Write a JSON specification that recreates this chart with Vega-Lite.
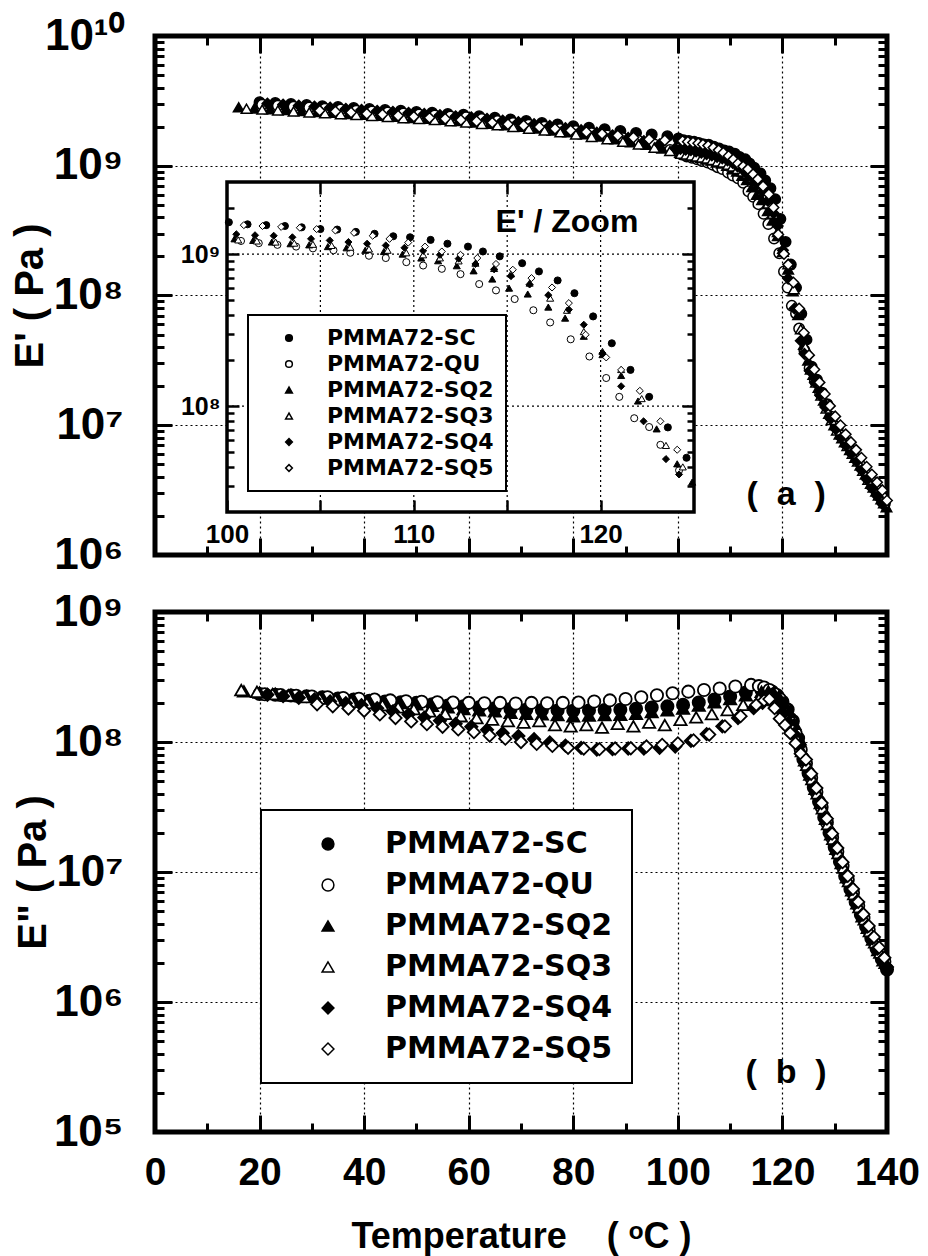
{
"$schema":"https://vega.github.io/schema/vega-lite/v6.json",
"padding":{"left":7,"top":11,"right":10,"bottom":2},
"datasets":{
"ea":[
{"s":"SC","T":20,"E":3.09e9},{"s":"SC","T":23,"E":3.04e9},{"s":"SC","T":26,"E":2.99e9},{"s":"SC","T":29,"E":2.94e9},{"s":"SC","T":32,"E":2.88e9},{"s":"SC","T":35,"E":2.84e9},{"s":"SC","T":38,"E":2.79e9},{"s":"SC","T":41,"E":2.74e9},{"s":"SC","T":44,"E":2.69e9},{"s":"SC","T":47,"E":2.65e9},{"s":"SC","T":50,"E":2.6e9},{"s":"SC","T":53,"E":2.56e9},{"s":"SC","T":56,"E":2.51e9},{"s":"SC","T":59,"E":2.47e9},{"s":"SC","T":62,"E":2.41e9},{"s":"SC","T":65,"E":2.34e9},{"s":"SC","T":68,"E":2.27e9},{"s":"SC","T":71,"E":2.21e9},{"s":"SC","T":74,"E":2.14e9},{"s":"SC","T":77,"E":2.08e9},{"s":"SC","T":80,"E":2.02e9},{"s":"SC","T":83,"E":1.96e9},{"s":"SC","T":86,"E":1.91e9},{"s":"SC","T":89,"E":1.85e9},{"s":"SC","T":92,"E":1.79e9},{"s":"SC","T":95,"E":1.74e9},{"s":"SC","T":98,"E":1.69e9},
{"s":"SC","T":100.1,"E":1.62e9},{"s":"SC","T":101.1,"E":1.57e9},{"s":"SC","T":102.1,"E":1.55e9},{"s":"SC","T":103.1,"E":1.53e9},{"s":"SC","T":104,"E":1.5e9},{"s":"SC","T":105,"E":1.46e9},{"s":"SC","T":105.9,"E":1.45e9},{"s":"SC","T":106.9,"E":1.4e9},{"s":"SC","T":107.9,"E":1.36e9},{"s":"SC","T":108.9,"E":1.31e9},{"s":"SC","T":109.8,"E":1.29e9},{"s":"SC","T":110.9,"E":1.24e9},{"s":"SC","T":111.8,"E":1.17e9},{"s":"SC","T":112.9,"E":1.12e9},{"s":"SC","T":113.7,"E":1.04e9},{"s":"SC","T":114.6,"E":9.66e8},{"s":"SC","T":115.8,"E":8.71e8},{"s":"SC","T":116.7,"E":7.69e8},{"s":"SC","T":117.7,"E":6.71e8},{"s":"SC","T":118.6,"E":5.53e8},{"s":"SC","T":119.6,"E":3.89e8},{"s":"SC","T":120.6,"E":2.59e8},{"s":"SC","T":121.6,"E":1.73e8},{"s":"SC","T":122.6,"E":1.15e8},{"s":"SC","T":123.6,"E":7.24e7},{"s":"SC","T":124.6,"E":4.57e7},
{"s":"SC","T":125.6,"E":2.82e7},{"s":"SC","T":126.6,"E":2.24e7},{"s":"SC","T":127.6,"E":1.78e7},{"s":"SC","T":128.6,"E":1.45e7},{"s":"SC","T":129.6,"E":1.15e7},{"s":"SC","T":130.6,"E":9.55e6},{"s":"SC","T":131.6,"E":8.13e6},{"s":"SC","T":132.6,"E":7.08e6},{"s":"SC","T":133.6,"E":6.17e6},{"s":"SC","T":134.6,"E":5.37e6},{"s":"SC","T":135.6,"E":4.68e6},{"s":"SC","T":136.6,"E":3.98e6},{"s":"SC","T":137.6,"E":3.47e6},{"s":"SC","T":138.6,"E":2.95e6},{"s":"SC","T":139.6,"E":2.51e6},
{"s":"QU","T":20.5,"E":2.95e9},{"s":"QU","T":23.5,"E":2.9e9},{"s":"QU","T":26.5,"E":2.85e9},{"s":"QU","T":29.5,"E":2.81e9},{"s":"QU","T":32.5,"E":2.75e9},{"s":"QU","T":35.5,"E":2.71e9},{"s":"QU","T":38.5,"E":2.66e9},{"s":"QU","T":41.5,"E":2.62e9},{"s":"QU","T":44.5,"E":2.57e9},{"s":"QU","T":47.5,"E":2.53e9},{"s":"QU","T":50.5,"E":2.48e9},{"s":"QU","T":53.5,"E":2.44e9},{"s":"QU","T":56.5,"E":2.4e9},{"s":"QU","T":59.5,"E":2.36e9},{"s":"QU","T":62.5,"E":2.29e9},{"s":"QU","T":65.5,"E":2.21e9},{"s":"QU","T":68.5,"E":2.14e9},{"s":"QU","T":71.5,"E":2.07e9},{"s":"QU","T":74.5,"E":2e9},{"s":"QU","T":77.5,"E":1.92e9},{"s":"QU","T":80.5,"E":1.85e9},{"s":"QU","T":83.5,"E":1.78e9},{"s":"QU","T":86.5,"E":1.71e9},{"s":"QU","T":89.5,"E":1.63e9},{"s":"QU","T":92.5,"E":1.55e9},{"s":"QU","T":95.5,"E":1.46e9},{"s":"QU","T":98.5,"E":1.32e9},
{"s":"QU","T":100.75,"E":1.22e9},{"s":"QU","T":101.7,"E":1.18e9},{"s":"QU","T":102.7,"E":1.15e9},{"s":"QU","T":103.7,"E":1.12e9},{"s":"QU","T":104.6,"E":1.09e9},{"s":"QU","T":105.7,"E":1.06e9},{"s":"QU","T":106.6,"E":1.02e9},{"s":"QU","T":107.6,"E":9.75e8},{"s":"QU","T":108.5,"E":9.42e8},{"s":"QU","T":109.6,"E":8.85e8},{"s":"QU","T":110.5,"E":8.41e8},{"s":"QU","T":111.5,"E":8e8},{"s":"QU","T":112.5,"E":7.38e8},{"s":"QU","T":113.5,"E":6.35e8},{"s":"QU","T":114.4,"E":5.77e8},{"s":"QU","T":115.4,"E":5.06e8},{"s":"QU","T":116.4,"E":4.27e8},{"s":"QU","T":117.3,"E":3.55e8},{"s":"QU","T":118.4,"E":2.75e8},{"s":"QU","T":119.4,"E":2.12e8},{"s":"QU","T":120.3,"E":1.53e8},{"s":"QU","T":121,"E":1.15e8},{"s":"QU","T":121.8,"E":8.32e7},{"s":"QU","T":122.6,"E":7.28e7},{"s":"QU","T":123.2,"E":5.56e7},{"s":"QU","T":124.2,"E":3.78e7},
{"s":"QU","T":125.2,"E":2.75e7},{"s":"QU","T":126.2,"E":2.19e7},{"s":"QU","T":127.2,"E":1.78e7},{"s":"QU","T":128.2,"E":1.45e7},{"s":"QU","T":129.2,"E":1.17e7},{"s":"QU","T":130.2,"E":9.77e6},{"s":"QU","T":131.2,"E":8.32e6},{"s":"QU","T":132.2,"E":7.24e6},{"s":"QU","T":133.2,"E":6.31e6},{"s":"QU","T":134.2,"E":5.5e6},{"s":"QU","T":135.2,"E":4.79e6},{"s":"QU","T":136.2,"E":4.17e6},{"s":"QU","T":137.2,"E":3.63e6},{"s":"QU","T":138.2,"E":3.16e6},{"s":"QU","T":139.2,"E":2.75e6},
{"s":"SQ2","T":16,"E":2.82e9},{"s":"SQ2","T":19,"E":2.77e9},{"s":"SQ2","T":22,"E":2.73e9},{"s":"SQ2","T":25,"E":2.69e9},{"s":"SQ2","T":28,"E":2.64e9},{"s":"SQ2","T":31,"E":2.6e9},{"s":"SQ2","T":34,"E":2.56e9},{"s":"SQ2","T":37,"E":2.51e9},{"s":"SQ2","T":40,"E":2.47e9},{"s":"SQ2","T":43,"E":2.43e9},{"s":"SQ2","T":46,"E":2.39e9},{"s":"SQ2","T":49,"E":2.34e9},{"s":"SQ2","T":52,"E":2.3e9},{"s":"SQ2","T":55,"E":2.26e9},{"s":"SQ2","T":58,"E":2.21e9},{"s":"SQ2","T":61,"E":2.16e9},{"s":"SQ2","T":64,"E":2.11e9},{"s":"SQ2","T":67,"E":2.05e9},{"s":"SQ2","T":70,"E":2e9},{"s":"SQ2","T":73,"E":1.94e9},{"s":"SQ2","T":76,"E":1.87e9},{"s":"SQ2","T":79,"E":1.81e9},{"s":"SQ2","T":82,"E":1.75e9},{"s":"SQ2","T":85,"E":1.68e9},{"s":"SQ2","T":88,"E":1.6e9},{"s":"SQ2","T":91,"E":1.52e9},{"s":"SQ2","T":94,"E":1.45e9},{"s":"SQ2","T":97,"E":1.36e9},
{"s":"SQ2","T":100.4,"E":1.26e9},{"s":"SQ2","T":101.4,"E":1.23e9},{"s":"SQ2","T":102.4,"E":1.2e9},{"s":"SQ2","T":103.4,"E":1.17e9},{"s":"SQ2","T":104.4,"E":1.15e9},{"s":"SQ2","T":105.4,"E":1.12e9},{"s":"SQ2","T":106.4,"E":1.1e9},{"s":"SQ2","T":107.4,"E":1.06e9},{"s":"SQ2","T":108.4,"E":1.04e9},{"s":"SQ2","T":109.4,"E":1e9},{"s":"SQ2","T":110.4,"E":9.42e8},{"s":"SQ2","T":111.3,"E":9.04e8},{"s":"SQ2","T":112.3,"E":8.38e8},{"s":"SQ2","T":113.2,"E":7.76e8},{"s":"SQ2","T":114.2,"E":6.85e8},{"s":"SQ2","T":115.1,"E":5.97e8},{"s":"SQ2","T":116.1,"E":5.46e8},{"s":"SQ2","T":117.2,"E":4.48e8},{"s":"SQ2","T":118.1,"E":3.79e8},{"s":"SQ2","T":119.1,"E":2.88e8},{"s":"SQ2","T":120.1,"E":2.18e8},{"s":"SQ2","T":121.1,"E":1.59e8},{"s":"SQ2","T":122,"E":1.08e8},{"s":"SQ2","T":123,"E":7.08e7},{"s":"SQ2","T":124.1,"E":4.17e7},{"s":"SQ2","T":124.9,"E":3.16e7},
{"s":"SQ2","T":125.9,"E":2.45e7},{"s":"SQ2","T":126.9,"E":1.95e7},{"s":"SQ2","T":127.9,"E":1.55e7},{"s":"SQ2","T":128.9,"E":1.23e7},{"s":"SQ2","T":129.9,"E":1e7},{"s":"SQ2","T":130.9,"E":8.51e6},{"s":"SQ2","T":131.9,"E":7.41e6},{"s":"SQ2","T":132.9,"E":6.46e6},{"s":"SQ2","T":133.9,"E":5.62e6},{"s":"SQ2","T":134.9,"E":4.9e6},{"s":"SQ2","T":135.9,"E":4.17e6},{"s":"SQ2","T":136.9,"E":3.55e6},{"s":"SQ2","T":137.9,"E":3.09e6},{"s":"SQ2","T":138.9,"E":2.69e6},{"s":"SQ2","T":139.9,"E":2.34e6},
{"s":"SQ3","T":17.5,"E":2.75e9},{"s":"SQ3","T":20.5,"E":2.71e9},{"s":"SQ3","T":23.5,"E":2.67e9},{"s":"SQ3","T":26.5,"E":2.62e9},{"s":"SQ3","T":29.5,"E":2.58e9},{"s":"SQ3","T":32.5,"E":2.54e9},{"s":"SQ3","T":35.5,"E":2.5e9},{"s":"SQ3","T":38.5,"E":2.46e9},{"s":"SQ3","T":41.5,"E":2.42e9},{"s":"SQ3","T":44.5,"E":2.38e9},{"s":"SQ3","T":47.5,"E":2.33e9},{"s":"SQ3","T":50.5,"E":2.29e9},{"s":"SQ3","T":53.5,"E":2.25e9},{"s":"SQ3","T":56.5,"E":2.2e9},{"s":"SQ3","T":59.5,"E":2.16e9},{"s":"SQ3","T":62.5,"E":2.1e9},{"s":"SQ3","T":65.5,"E":2.05e9},{"s":"SQ3","T":68.5,"E":1.99e9},{"s":"SQ3","T":71.5,"E":1.93e9},{"s":"SQ3","T":74.5,"E":1.87e9},{"s":"SQ3","T":77.5,"E":1.81e9},{"s":"SQ3","T":80.5,"E":1.74e9},{"s":"SQ3","T":83.5,"E":1.67e9},{"s":"SQ3","T":86.5,"E":1.6e9},{"s":"SQ3","T":89.5,"E":1.53e9},{"s":"SQ3","T":92.5,"E":1.46e9},{"s":"SQ3","T":95.5,"E":1.38e9},{"s":"SQ3","T":98.5,"E":1.3e9},
{"s":"SQ3","T":100.6,"E":1.24e9},{"s":"SQ3","T":101.6,"E":1.22e9},{"s":"SQ3","T":102.6,"E":1.2e9},{"s":"SQ3","T":103.6,"E":1.18e9},{"s":"SQ3","T":104.6,"E":1.16e9},{"s":"SQ3","T":105.6,"E":1.14e9},{"s":"SQ3","T":106.6,"E":1.11e9},{"s":"SQ3","T":107.6,"E":1.08e9},{"s":"SQ3","T":108.6,"E":1.06e9},{"s":"SQ3","T":109.6,"E":1.02e9},{"s":"SQ3","T":110.5,"E":9.89e8},{"s":"SQ3","T":111.4,"E":9.44e8},{"s":"SQ3","T":112.4,"E":9.02e8},{"s":"SQ3","T":113.3,"E":8.71e8},{"s":"SQ3","T":114.3,"E":8.04e8},{"s":"SQ3","T":115.2,"E":7.41e8},{"s":"SQ3","T":116.2,"E":6.44e8},{"s":"SQ3","T":117.3,"E":5.13e8},{"s":"SQ3","T":118.2,"E":4.27e8},{"s":"SQ3","T":119.1,"E":3.09e8},{"s":"SQ3","T":120.1,"E":2.29e8},{"s":"SQ3","T":121.1,"E":1.74e8},{"s":"SQ3","T":122.2,"E":1.12e8},{"s":"SQ3","T":123.5,"E":5.51e7},{"s":"SQ3","T":124.4,"E":3.98e7},
{"s":"SQ3","T":125.4,"E":2.69e7},{"s":"SQ3","T":126.4,"E":2.14e7},{"s":"SQ3","T":127.4,"E":1.7e7},{"s":"SQ3","T":128.4,"E":1.35e7},{"s":"SQ3","T":129.4,"E":1.1e7},{"s":"SQ3","T":130.4,"E":9.12e6},{"s":"SQ3","T":131.4,"E":7.94e6},{"s":"SQ3","T":132.4,"E":6.92e6},{"s":"SQ3","T":133.4,"E":6.03e6},{"s":"SQ3","T":134.4,"E":5.25e6},{"s":"SQ3","T":135.4,"E":4.47e6},{"s":"SQ3","T":136.4,"E":3.8e6},{"s":"SQ3","T":137.4,"E":3.31e6},{"s":"SQ3","T":138.4,"E":2.88e6},{"s":"SQ3","T":139.4,"E":2.51e6},
{"s":"SQ4","T":21.5,"E":3.02e9},{"s":"SQ4","T":24.5,"E":2.96e9},{"s":"SQ4","T":27.5,"E":2.91e9},{"s":"SQ4","T":30.5,"E":2.86e9},{"s":"SQ4","T":33.5,"E":2.81e9},{"s":"SQ4","T":36.5,"E":2.75e9},{"s":"SQ4","T":39.5,"E":2.7e9},{"s":"SQ4","T":42.5,"E":2.65e9},{"s":"SQ4","T":45.5,"E":2.61e9},{"s":"SQ4","T":48.5,"E":2.56e9},{"s":"SQ4","T":51.5,"E":2.51e9},{"s":"SQ4","T":54.5,"E":2.46e9},{"s":"SQ4","T":57.5,"E":2.41e9},{"s":"SQ4","T":60.5,"E":2.36e9},{"s":"SQ4","T":63.5,"E":2.3e9},{"s":"SQ4","T":66.5,"E":2.23e9},{"s":"SQ4","T":69.5,"E":2.17e9},{"s":"SQ4","T":72.5,"E":2.1e9},{"s":"SQ4","T":75.5,"E":2.03e9},{"s":"SQ4","T":78.5,"E":1.95e9},{"s":"SQ4","T":81.5,"E":1.88e9},{"s":"SQ4","T":84.5,"E":1.8e9},{"s":"SQ4","T":87.5,"E":1.72e9},{"s":"SQ4","T":90.5,"E":1.64e9},{"s":"SQ4","T":93.5,"E":1.55e9},{"s":"SQ4","T":96.5,"E":1.46e9},{"s":"SQ4","T":99.5,"E":1.36e9},
{"s":"SQ4","T":100.5,"E":1.35e9},{"s":"SQ4","T":101.5,"E":1.33e9},{"s":"SQ4","T":102.5,"E":1.32e9},{"s":"SQ4","T":103.5,"E":1.29e9},{"s":"SQ4","T":104.5,"E":1.26e9},{"s":"SQ4","T":105.5,"E":1.23e9},{"s":"SQ4","T":106.5,"E":1.2e9},{"s":"SQ4","T":107.5,"E":1.17e9},{"s":"SQ4","T":108.5,"E":1.14e9},{"s":"SQ4","T":109.5,"E":1.1e9},{"s":"SQ4","T":110.5,"E":1.05e9},{"s":"SQ4","T":111.4,"E":9.89e8},{"s":"SQ4","T":112.4,"E":9.33e8},{"s":"SQ4","T":113.3,"E":8.61e8},{"s":"SQ4","T":114.3,"E":7.94e8},{"s":"SQ4","T":115.2,"E":7.16e8},{"s":"SQ4","T":116.2,"E":6.31e8},{"s":"SQ4","T":117.2,"E":5.37e8},{"s":"SQ4","T":118.3,"E":4.31e8},{"s":"SQ4","T":119.1,"E":3.43e8},{"s":"SQ4","T":120.1,"E":2.23e8},{"s":"SQ4","T":121.1,"E":1.35e8},{"s":"SQ4","T":122.3,"E":7.94e7},{"s":"SQ4","T":123.5,"E":4.48e7},{"s":"SQ4","T":124.2,"E":3.55e7},
{"s":"SQ4","T":125.2,"E":2.63e7},{"s":"SQ4","T":126.2,"E":2.14e7},{"s":"SQ4","T":127.2,"E":1.7e7},{"s":"SQ4","T":128.2,"E":1.38e7},{"s":"SQ4","T":129.2,"E":1.12e7},{"s":"SQ4","T":130.2,"E":9.33e6},{"s":"SQ4","T":131.2,"E":7.94e6},{"s":"SQ4","T":132.2,"E":6.92e6},{"s":"SQ4","T":133.2,"E":6.03e6},{"s":"SQ4","T":134.2,"E":5.25e6},{"s":"SQ4","T":135.2,"E":4.47e6},{"s":"SQ4","T":136.2,"E":3.8e6},{"s":"SQ4","T":137.2,"E":3.24e6},{"s":"SQ4","T":138.2,"E":2.82e6},{"s":"SQ4","T":139.2,"E":2.45e6},
{"s":"SQ5","T":31.5,"E":2.66e9},{"s":"SQ5","T":34.5,"E":2.62e9},{"s":"SQ5","T":37.5,"E":2.57e9},{"s":"SQ5","T":40.5,"E":2.52e9},{"s":"SQ5","T":43.5,"E":2.48e9},{"s":"SQ5","T":46.5,"E":2.43e9},{"s":"SQ5","T":49.5,"E":2.39e9},{"s":"SQ5","T":52.5,"E":2.34e9},{"s":"SQ5","T":55.5,"E":2.3e9},{"s":"SQ5","T":58.5,"E":2.25e9},{"s":"SQ5","T":61.5,"E":2.2e9},{"s":"SQ5","T":64.5,"E":2.15e9},{"s":"SQ5","T":67.5,"E":2.09e9},{"s":"SQ5","T":70.5,"E":2.04e9},{"s":"SQ5","T":73.5,"E":1.99e9},{"s":"SQ5","T":76.5,"E":1.93e9},{"s":"SQ5","T":79.5,"E":1.87e9},{"s":"SQ5","T":82.5,"E":1.82e9},{"s":"SQ5","T":85.5,"E":1.76e9},{"s":"SQ5","T":88.5,"E":1.71e9},{"s":"SQ5","T":91.5,"E":1.65e9},{"s":"SQ5","T":94.5,"E":1.6e9},{"s":"SQ5","T":97.5,"E":1.57e9},
{"s":"SQ5","T":100.9,"E":1.55e9},{"s":"SQ5","T":101.9,"E":1.53e9},{"s":"SQ5","T":102.9,"E":1.51e9},{"s":"SQ5","T":103.9,"E":1.49e9},{"s":"SQ5","T":104.8,"E":1.46e9},{"s":"SQ5","T":105.8,"E":1.43e9},{"s":"SQ5","T":106.8,"E":1.38e9},{"s":"SQ5","T":107.8,"E":1.32e9},{"s":"SQ5","T":108.7,"E":1.26e9},{"s":"SQ5","T":109.7,"E":1.19e9},{"s":"SQ5","T":110.6,"E":1.12e9},{"s":"SQ5","T":111.5,"E":1.04e9},{"s":"SQ5","T":112.5,"E":9.89e8},{"s":"SQ5","T":113.4,"E":9.42e8},{"s":"SQ5","T":114.4,"E":8.61e8},{"s":"SQ5","T":115.3,"E":7.89e8},{"s":"SQ5","T":116.3,"E":6.95e8},{"s":"SQ5","T":117.4,"E":6.03e8},{"s":"SQ5","T":118.3,"E":4.76e8},{"s":"SQ5","T":119.2,"E":2.95e8},{"s":"SQ5","T":120.3,"E":2.09e8},{"s":"SQ5","T":121.1,"E":1.73e8},{"s":"SQ5","T":122.1,"E":1.26e8},{"s":"SQ5","T":123.2,"E":7.94e7},{"s":"SQ5","T":124.1,"E":5.16e7},
{"s":"SQ5","T":125.1,"E":3.47e7},{"s":"SQ5","T":126.1,"E":2.69e7},{"s":"SQ5","T":127.1,"E":2.14e7},{"s":"SQ5","T":128.1,"E":1.74e7},{"s":"SQ5","T":129.1,"E":1.41e7},{"s":"SQ5","T":130.1,"E":1.17e7},{"s":"SQ5","T":131.1,"E":1e7},{"s":"SQ5","T":132.1,"E":8.51e6},{"s":"SQ5","T":133.1,"E":7.41e6},{"s":"SQ5","T":134.1,"E":6.46e6},{"s":"SQ5","T":135.1,"E":5.62e6},{"s":"SQ5","T":136.1,"E":4.79e6},{"s":"SQ5","T":137.1,"E":4.17e6},{"s":"SQ5","T":138.1,"E":3.63e6},{"s":"SQ5","T":139.1,"E":3.16e6},{"s":"SQ5","T":140,"E":2.63e6}
],
"eb":[
{"s":"SC","T":20,"E":2.34e8},{"s":"SC","T":23,"E":2.31e8},{"s":"SC","T":26,"E":2.28e8},{"s":"SC","T":29,"E":2.25e8},{"s":"SC","T":32,"E":2.21e8},{"s":"SC","T":35,"E":2.16e8},{"s":"SC","T":38,"E":2.12e8},{"s":"SC","T":41,"E":2.08e8},{"s":"SC","T":44,"E":2.05e8},{"s":"SC","T":47,"E":2.02e8},{"s":"SC","T":50,"E":2e8},{"s":"SC","T":53,"E":1.95e8},{"s":"SC","T":56,"E":1.91e8},{"s":"SC","T":59,"E":1.88e8},{"s":"SC","T":62,"E":1.85e8},{"s":"SC","T":65,"E":1.82e8},{"s":"SC","T":68,"E":1.79e8},{"s":"SC","T":71,"E":1.77e8},{"s":"SC","T":74,"E":1.76e8},{"s":"SC","T":77,"E":1.75e8},{"s":"SC","T":80,"E":1.74e8},{"s":"SC","T":83,"E":1.75e8},{"s":"SC","T":86,"E":1.76e8},{"s":"SC","T":89,"E":1.77e8},{"s":"SC","T":92,"E":1.8e8},{"s":"SC","T":95,"E":1.84e8},{"s":"SC","T":98,"E":1.88e8},{"s":"SC","T":101,"E":1.93e8},{"s":"SC","T":104,"E":2.01e8},{"s":"SC","T":107,"E":2.12e8},{"s":"SC","T":110,"E":2.24e8},{"s":"SC","T":113,"E":2.4e8},{"s":"SC","T":116,"E":2.51e8},
{"s":"SC","T":117,"E":2.51e8},{"s":"SC","T":118,"E":2.45e8},{"s":"SC","T":119,"E":2.29e8},{"s":"SC","T":120,"E":2.04e8},{"s":"SC","T":121,"E":1.78e8},{"s":"SC","T":122,"E":1.45e8},{"s":"SC","T":123,"E":1.07e8},{"s":"SC","T":124,"E":7.41e7},{"s":"SC","T":125,"E":5.75e7},{"s":"SC","T":126,"E":4.47e7},{"s":"SC","T":127,"E":3.47e7},{"s":"SC","T":128,"E":2.63e7},{"s":"SC","T":129,"E":2e7},{"s":"SC","T":130,"E":1.55e7},{"s":"SC","T":131,"E":1.2e7},{"s":"SC","T":132,"E":9.33e6},{"s":"SC","T":133,"E":7.41e6},{"s":"SC","T":134,"E":5.89e6},{"s":"SC","T":135,"E":4.68e6},{"s":"SC","T":136,"E":3.8e6},{"s":"SC","T":137,"E":3.09e6},{"s":"SC","T":138,"E":2.57e6},{"s":"SC","T":139,"E":2.14e6},{"s":"SC","T":140,"E":1.78e6},
{"s":"QU","T":21,"E":2.33e8},{"s":"QU","T":24,"E":2.3e8},{"s":"QU","T":27,"E":2.27e8},{"s":"QU","T":30,"E":2.24e8},{"s":"QU","T":33,"E":2.21e8},{"s":"QU","T":36,"E":2.18e8},{"s":"QU","T":39,"E":2.15e8},{"s":"QU","T":42,"E":2.12e8},{"s":"QU","T":45,"E":2.09e8},{"s":"QU","T":48,"E":2.06e8},{"s":"QU","T":51,"E":2.04e8},{"s":"QU","T":54,"E":2.02e8},{"s":"QU","T":57,"E":2.01e8},{"s":"QU","T":60,"E":2e8},{"s":"QU","T":63,"E":1.99e8},{"s":"QU","T":66,"E":2e8},{"s":"QU","T":69,"E":1.98e8},{"s":"QU","T":72,"E":2e8},{"s":"QU","T":75,"E":1.99e8},{"s":"QU","T":78,"E":2e8},{"s":"QU","T":81,"E":2.01e8},{"s":"QU","T":84,"E":2.05e8},{"s":"QU","T":87,"E":2.09e8},{"s":"QU","T":90,"E":2.14e8},{"s":"QU","T":93,"E":2.21e8},{"s":"QU","T":96,"E":2.29e8},{"s":"QU","T":99,"E":2.37e8},{"s":"QU","T":102,"E":2.44e8},{"s":"QU","T":105,"E":2.51e8},{"s":"QU","T":108,"E":2.58e8},{"s":"QU","T":111,"E":2.67e8},{"s":"QU","T":114,"E":2.75e8},
{"s":"QU","T":115.5,"E":2.69e8},{"s":"QU","T":116.5,"E":2.63e8},{"s":"QU","T":117.5,"E":2.51e8},{"s":"QU","T":118.5,"E":2.34e8},{"s":"QU","T":119.5,"E":2.14e8},{"s":"QU","T":120.5,"E":1.82e8},{"s":"QU","T":121.5,"E":1.51e8},{"s":"QU","T":122.5,"E":1.17e8},{"s":"QU","T":123.5,"E":8.71e7},{"s":"QU","T":124.5,"E":6.84e7},{"s":"QU","T":125.5,"E":5.31e7},{"s":"QU","T":126.5,"E":4.12e7},{"s":"QU","T":127.5,"E":3.16e7},{"s":"QU","T":128.5,"E":2.4e7},{"s":"QU","T":129.5,"E":1.84e7},{"s":"QU","T":130.5,"E":1.43e7},{"s":"QU","T":131.5,"E":1.11e7},{"s":"QU","T":132.5,"E":8.71e6},{"s":"QU","T":133.5,"E":6.92e6},{"s":"QU","T":134.5,"E":5.5e6},{"s":"QU","T":135.5,"E":4.42e6},{"s":"QU","T":136.5,"E":3.59e6},{"s":"QU","T":137.5,"E":2.95e6},{"s":"QU","T":138.5,"E":2.45e6},{"s":"QU","T":139.5,"E":2.04e6},
{"s":"SQ2","T":17,"E":2.45e8},{"s":"SQ2","T":20,"E":2.4e8},{"s":"SQ2","T":23,"E":2.35e8},{"s":"SQ2","T":26,"E":2.3e8},{"s":"SQ2","T":29,"E":2.25e8},{"s":"SQ2","T":32,"E":2.21e8},{"s":"SQ2","T":35,"E":2.16e8},{"s":"SQ2","T":38,"E":2.12e8},{"s":"SQ2","T":41,"E":2.07e8},{"s":"SQ2","T":44,"E":2.03e8},{"s":"SQ2","T":47,"E":1.99e8},{"s":"SQ2","T":50,"E":1.95e8},{"s":"SQ2","T":53,"E":1.9e8},{"s":"SQ2","T":56,"E":1.85e8},{"s":"SQ2","T":59,"E":1.79e8},{"s":"SQ2","T":62,"E":1.75e8},{"s":"SQ2","T":65,"E":1.72e8},{"s":"SQ2","T":68,"E":1.68e8},{"s":"SQ2","T":71,"E":1.65e8},{"s":"SQ2","T":74,"E":1.63e8},{"s":"SQ2","T":77,"E":1.61e8},{"s":"SQ2","T":80,"E":1.58e8},{"s":"SQ2","T":83,"E":1.6e8},{"s":"SQ2","T":86,"E":1.61e8},{"s":"SQ2","T":89,"E":1.62e8},{"s":"SQ2","T":92,"E":1.65e8},{"s":"SQ2","T":95,"E":1.7e8},{"s":"SQ2","T":98,"E":1.75e8},{"s":"SQ2","T":101,"E":1.81e8},{"s":"SQ2","T":104,"E":1.91e8},{"s":"SQ2","T":107,"E":2.02e8},{"s":"SQ2","T":110,"E":2.14e8},{"s":"SQ2","T":113,"E":2.29e8},{"s":"SQ2","T":116,"E":2.43e8},
{"s":"SQ2","T":117.3,"E":2.45e8},{"s":"SQ2","T":118.3,"E":2.4e8},{"s":"SQ2","T":119.3,"E":2.24e8},{"s":"SQ2","T":120.3,"E":2e8},{"s":"SQ2","T":121.3,"E":1.7e8},{"s":"SQ2","T":122.3,"E":1.38e8},{"s":"SQ2","T":123.3,"E":1.05e8},{"s":"SQ2","T":124.3,"E":7.24e7},{"s":"SQ2","T":125.3,"E":5.62e7},{"s":"SQ2","T":126.3,"E":4.37e7},{"s":"SQ2","T":127.3,"E":3.39e7},{"s":"SQ2","T":128.3,"E":2.57e7},{"s":"SQ2","T":129.3,"E":1.95e7},{"s":"SQ2","T":130.3,"E":1.51e7},{"s":"SQ2","T":131.3,"E":1.17e7},{"s":"SQ2","T":132.3,"E":9.12e6},{"s":"SQ2","T":133.3,"E":7.24e6},{"s":"SQ2","T":134.3,"E":5.75e6},{"s":"SQ2","T":135.3,"E":4.57e6},{"s":"SQ2","T":136.3,"E":3.72e6},{"s":"SQ2","T":137.3,"E":3.02e6},{"s":"SQ2","T":138.3,"E":2.51e6},{"s":"SQ2","T":139.3,"E":2.09e6},
{"s":"SQ3","T":16.5,"E":2.51e8},{"s":"SQ3","T":19.5,"E":2.43e8},{"s":"SQ3","T":22.5,"E":2.34e8},{"s":"SQ3","T":25.5,"E":2.28e8},{"s":"SQ3","T":28.5,"E":2.22e8},{"s":"SQ3","T":31.5,"E":2.16e8},{"s":"SQ3","T":34.5,"E":2.1e8},{"s":"SQ3","T":37.5,"E":2.04e8},{"s":"SQ3","T":40.5,"E":1.99e8},{"s":"SQ3","T":43.5,"E":1.92e8},{"s":"SQ3","T":46.5,"E":1.85e8},{"s":"SQ3","T":49.5,"E":1.79e8},{"s":"SQ3","T":52.5,"E":1.72e8},{"s":"SQ3","T":55.5,"E":1.65e8},{"s":"SQ3","T":58.5,"E":1.58e8},{"s":"SQ3","T":61.5,"E":1.53e8},{"s":"SQ3","T":64.5,"E":1.49e8},{"s":"SQ3","T":67.5,"E":1.45e8},{"s":"SQ3","T":70.5,"E":1.41e8},{"s":"SQ3","T":73.5,"E":1.45e8},{"s":"SQ3","T":76.5,"E":1.35e8},{"s":"SQ3","T":79.5,"E":1.32e8},{"s":"SQ3","T":82.5,"E":1.35e8},{"s":"SQ3","T":85.5,"E":1.29e8},{"s":"SQ3","T":88.5,"E":1.38e8},{"s":"SQ3","T":91.5,"E":1.32e8},{"s":"SQ3","T":94.5,"E":1.41e8},{"s":"SQ3","T":97.5,"E":1.35e8},{"s":"SQ3","T":100.5,"E":1.48e8},{"s":"SQ3","T":103.5,"E":1.55e8},{"s":"SQ3","T":106.5,"E":1.64e8},{"s":"SQ3","T":109.5,"E":1.76e8},{"s":"SQ3","T":112.5,"E":1.93e8},{"s":"SQ3","T":115.5,"E":2.14e8},
{"s":"SQ3","T":116.7,"E":2.21e8},{"s":"SQ3","T":117.7,"E":2.24e8},{"s":"SQ3","T":118.7,"E":2.09e8},{"s":"SQ3","T":119.7,"E":1.86e8},{"s":"SQ3","T":120.7,"E":1.58e8},{"s":"SQ3","T":121.7,"E":1.32e8},{"s":"SQ3","T":122.7,"E":1.07e8},{"s":"SQ3","T":123.7,"E":8.51e7},{"s":"SQ3","T":124.7,"E":6.68e7},{"s":"SQ3","T":125.7,"E":5.19e7},{"s":"SQ3","T":126.7,"E":4.03e7},{"s":"SQ3","T":127.7,"E":3.09e7},{"s":"SQ3","T":128.7,"E":2.34e7},{"s":"SQ3","T":129.7,"E":1.8e7},{"s":"SQ3","T":130.7,"E":1.4e7},{"s":"SQ3","T":131.7,"E":1.08e7},{"s":"SQ3","T":132.7,"E":8.51e6},{"s":"SQ3","T":133.7,"E":6.76e6},{"s":"SQ3","T":134.7,"E":5.37e6},{"s":"SQ3","T":135.7,"E":4.32e6},{"s":"SQ3","T":136.7,"E":3.51e6},{"s":"SQ3","T":137.7,"E":2.88e6},{"s":"SQ3","T":138.7,"E":2.4e6},{"s":"SQ3","T":139.7,"E":2e6},
{"s":"SQ4","T":21.5,"E":2.31e8},{"s":"SQ4","T":24.5,"E":2.25e8},{"s":"SQ4","T":27.5,"E":2.19e8},{"s":"SQ4","T":30.5,"E":2.13e8},{"s":"SQ4","T":33.5,"E":2.05e8},{"s":"SQ4","T":36.5,"E":1.99e8},{"s":"SQ4","T":39.5,"E":1.92e8},{"s":"SQ4","T":42.5,"E":1.82e8},{"s":"SQ4","T":45.5,"E":1.72e8},{"s":"SQ4","T":48.5,"E":1.63e8},{"s":"SQ4","T":51.5,"E":1.54e8},{"s":"SQ4","T":54.5,"E":1.46e8},{"s":"SQ4","T":57.5,"E":1.38e8},{"s":"SQ4","T":60.5,"E":1.31e8},{"s":"SQ4","T":63.5,"E":1.24e8},{"s":"SQ4","T":66.5,"E":1.17e8},{"s":"SQ4","T":69.5,"E":1.11e8},{"s":"SQ4","T":72.5,"E":1.05e8},{"s":"SQ4","T":75.5,"E":9.91e7},{"s":"SQ4","T":78.5,"E":9.38e7},{"s":"SQ4","T":81.5,"E":9e7},{"s":"SQ4","T":84.5,"E":8.75e7},{"s":"SQ4","T":87.5,"E":8.81e7},{"s":"SQ4","T":90.5,"E":8.91e7},{"s":"SQ4","T":93.5,"E":8.91e7},{"s":"SQ4","T":96.5,"E":9.02e7},{"s":"SQ4","T":99.5,"E":9.23e7},{"s":"SQ4","T":102.5,"E":1.02e8},{"s":"SQ4","T":105.5,"E":1.15e8},{"s":"SQ4","T":108.5,"E":1.32e8},{"s":"SQ4","T":111.5,"E":1.53e8},{"s":"SQ4","T":114.5,"E":1.82e8},
{"s":"SQ4","T":116.2,"E":2e8},{"s":"SQ4","T":117.2,"E":2.14e8},{"s":"SQ4","T":118.2,"E":2.09e8},{"s":"SQ4","T":119.2,"E":1.91e8},{"s":"SQ4","T":120.2,"E":1.66e8},{"s":"SQ4","T":121.2,"E":1.41e8},{"s":"SQ4","T":122.2,"E":1.15e8},{"s":"SQ4","T":123.2,"E":9.33e7},{"s":"SQ4","T":124.2,"E":7.41e7},{"s":"SQ4","T":125.2,"E":5.75e7},{"s":"SQ4","T":126.2,"E":4.47e7},{"s":"SQ4","T":127.2,"E":3.47e7},{"s":"SQ4","T":128.2,"E":2.63e7},{"s":"SQ4","T":129.2,"E":2e7},{"s":"SQ4","T":130.2,"E":1.55e7},{"s":"SQ4","T":131.2,"E":1.2e7},{"s":"SQ4","T":132.2,"E":9.33e6},{"s":"SQ4","T":133.2,"E":7.41e6},{"s":"SQ4","T":134.2,"E":5.89e6},{"s":"SQ4","T":135.2,"E":4.68e6},{"s":"SQ4","T":136.2,"E":3.8e6},{"s":"SQ4","T":137.2,"E":3.09e6},{"s":"SQ4","T":138.2,"E":2.57e6},{"s":"SQ4","T":139.2,"E":2.14e6},{"s":"SQ4","T":140,"E":1.86e6},
{"s":"SQ5","T":31,"E":1.95e8},{"s":"SQ5","T":34,"E":1.88e8},{"s":"SQ5","T":37,"E":1.81e8},{"s":"SQ5","T":40,"E":1.74e8},{"s":"SQ5","T":43,"E":1.63e8},{"s":"SQ5","T":46,"E":1.53e8},{"s":"SQ5","T":49,"E":1.44e8},{"s":"SQ5","T":52,"E":1.37e8},{"s":"SQ5","T":55,"E":1.31e8},{"s":"SQ5","T":58,"E":1.25e8},{"s":"SQ5","T":61,"E":1.19e8},{"s":"SQ5","T":64,"E":1.12e8},{"s":"SQ5","T":67,"E":1.06e8},{"s":"SQ5","T":70,"E":1e8},{"s":"SQ5","T":73,"E":9.66e7},{"s":"SQ5","T":76,"E":9.33e7},{"s":"SQ5","T":79,"E":9.02e7},{"s":"SQ5","T":82,"E":8.91e7},{"s":"SQ5","T":85,"E":8.81e7},{"s":"SQ5","T":88,"E":8.91e7},{"s":"SQ5","T":91,"E":8.95e7},{"s":"SQ5","T":94,"E":9.25e7},{"s":"SQ5","T":97,"E":9.51e7},{"s":"SQ5","T":100,"E":9.77e7},{"s":"SQ5","T":103,"E":1.03e8},{"s":"SQ5","T":106,"E":1.14e8},{"s":"SQ5","T":109,"E":1.32e8},{"s":"SQ5","T":112,"E":1.58e8},{"s":"SQ5","T":115,"E":1.93e8},
{"s":"SQ5","T":116.5,"E":2.09e8},{"s":"SQ5","T":117.5,"E":2.14e8},{"s":"SQ5","T":118.5,"E":1.82e8},{"s":"SQ5","T":119.5,"E":1.51e8},{"s":"SQ5","T":120.5,"E":1.35e8},{"s":"SQ5","T":121.5,"E":1.17e8},{"s":"SQ5","T":122.5,"E":9.77e7},{"s":"SQ5","T":123.5,"E":8.13e7},{"s":"SQ5","T":124.5,"E":7.33e7},{"s":"SQ5","T":125.5,"E":5.69e7},{"s":"SQ5","T":126.5,"E":4.42e7},{"s":"SQ5","T":127.5,"E":3.39e7},{"s":"SQ5","T":128.5,"E":2.57e7},{"s":"SQ5","T":129.5,"E":1.97e7},{"s":"SQ5","T":130.5,"E":1.53e7},{"s":"SQ5","T":131.5,"E":1.19e7},{"s":"SQ5","T":132.5,"E":9.33e6},{"s":"SQ5","T":133.5,"E":7.41e6},{"s":"SQ5","T":134.5,"E":5.89e6},{"s":"SQ5","T":135.5,"E":4.73e6},{"s":"SQ5","T":136.5,"E":3.85e6},{"s":"SQ5","T":137.5,"E":3.16e6},{"s":"SQ5","T":138.5,"E":2.63e6},{"s":"SQ5","T":139.5,"E":2.19e6}
]
},
"vconcat":[
{
"width":732,"height":519,
"layer":[
{
"layer":[
{"data":{"name":"ea"},
"mark":{"type":"point","filled":true,"stroke":"black","strokeWidth":1.5,"size":110,"opacity":1},
"encoding":{
"x":{"field":"T","type":"quantitative","scale":{"domain":[0,140],"nice":false,"zero":false},"axis":{"orient":"bottom","values":[20,40,60,80,100,120],"grid":true,"labels":false,"tickSize":-17,"title":null}},
"y":{"field":"E","type":"quantitative","scale":{"type":"log","domain":[1e6,1e10],"nice":false},"axis":{"orient":"left","values":[1e6,1e7,1e8,1e9,1e10],"grid":true,"tickSize":-17,"labelExpr":"'10' + ['⁶','⁷','⁸','⁹','¹⁰'][round(log(datum.value)/LN10)-6]","labelFontSize":44,"labelPadding":49,"title":"E' ( Pa )","titleFontSize":40,"titleX":-125,"titleY":259.5,"titleBaseline":"middle"}},
"shape":{"field":"s","type":"nominal","scale":{"domain":["SC","QU","SQ2","SQ3","SQ4","SQ5"],"range":["circle","circle","triangle-up","triangle-up","diamond","diamond"]},"legend":{"orient":"none","legendX":93,"legendY":279,"title":null,"labelExpr":"'PMMA72-' + datum.label","labelFont":"DejaVu Sans","labelFontWeight":"bold","labelFontSize":22,"labelColor":"black","labelLimit":400,"symbolSize":45,"strokeColor":"black","fillColor":"white","padding":12,"rowPadding":4,"symbolOffset":18,"labelOffset":27,"encode":{"symbols":{"update":{"stroke":{"value":"black"},"strokeWidth":{"value":1.2}}}}}},
"fill":{"field":"s","type":"nominal","scale":{"domain":["SC","QU","SQ2","SQ3","SQ4","SQ5"],"range":["black","white","black","white","black","white"]},"legend":{"orient":"none","legendX":93,"legendY":279,"title":null,"labelExpr":"'PMMA72-' + datum.label","labelFont":"DejaVu Sans","labelFontWeight":"bold","labelFontSize":22,"labelColor":"black","labelLimit":400,"symbolSize":45,"strokeColor":"black","fillColor":"white","padding":12,"rowPadding":4,"symbolOffset":18,"labelOffset":27,"encode":{"symbols":{"update":{"stroke":{"value":"black"},"strokeWidth":{"value":1.2}}}}}}
}},
{"data":{"name":"ea"},"mark":{"type":"point","opacity":0},
"encoding":{
"x":{"field":"T","type":"quantitative","scale":{"domain":[0,140],"nice":false,"zero":false},"axis":{"orient":"bottom","values":[10,30,50,70,90,110,130],"labels":false,"tickSize":-9,"title":null}},
"y":{"field":"E","type":"quantitative","scale":{"type":"log","domain":[1e6,1e10],"nice":false},"axis":{"orient":"left","values":[2e6,3e6,4e6,5e6,6e6,7e6,8e6,9e6,2e7,3e7,4e7,5e7,6e7,7e7,8e7,9e7,2e8,3e8,4e8,5e8,6e8,7e8,8e8,9e8,2e9,3e9,4e9,5e9,6e9,7e9,8e9,9e9],"labels":false,"tickSize":-9,"title":null}}
}},
{"data":{"name":"ea"},"mark":{"type":"point","opacity":0},
"encoding":{
"x":{"field":"T","type":"quantitative","scale":{"domain":[0,140],"nice":false,"zero":false},"axis":{"orient":"top","values":[10,30,50,70,90,110,130],"labels":false,"tickSize":-9,"title":null}},
"y":{"field":"E","type":"quantitative","scale":{"type":"log","domain":[1e6,1e10],"nice":false},"axis":{"orient":"right","values":[2e6,3e6,4e6,5e6,6e6,7e6,8e6,9e6,2e7,3e7,4e7,5e7,6e7,7e7,8e7,9e7,2e8,3e8,4e8,5e8,6e8,7e8,8e8,9e8,2e9,3e9,4e9,5e9,6e9,7e9,8e9,9e9],"labels":false,"tickSize":-9,"title":null}}
}},
{"data":{"values":[{"lab":"(\u00a0\u00a0a\u00a0\u00a0)","T":120.7,"E":2.9e6}]},
"mark":{"type":"text","font":"Liberation Sans","fontWeight":"bold","fontSize":34,"align":"center","baseline":"middle","color":"black"},
"encoding":{
"x":{"field":"T","type":"quantitative","scale":{"domain":[0,140],"nice":false,"zero":false},"axis":{"orient":"top","values":[20,40,60,80,100,120],"labels":false,"tickSize":-17,"title":null}},
"y":{"field":"E","type":"quantitative","scale":{"type":"log","domain":[1e6,1e10],"nice":false},"axis":{"orient":"right","values":[1e7,1e8,1e9],"labels":false,"tickSize":-17,"title":null}},
"text":{"field":"lab"}
}}
],
"resolve":{"axis":{"x":"independent","y":"independent"}}
},
{
"layer":[
{"data":{"values":[{}]},
"mark":{"type":"rect","fill":"white","stroke":"black","strokeWidth":3.5},
"encoding":{
"x":{"datum":100,"type":"quantitative","scale":{"domain":[100,125],"range":[72,539],"nice":false,"zero":false},"axis":{"orient":"top","offset":-146,"values":[105,110,115,120],"labels":false,"tickSize":-12,"tickWidth":2.5,"title":null,"zindex":1}},
"x2":{"datum":125},
"y":{"datum":2.01e7,"type":"quantitative","scale":{"type":"log","domain":[2.01e7,2.98e9],"range":[476,146],"nice":false},"axis":{"orient":"left","offset":-72,"values":[3e7,4e7,5e7,6e7,7e7,8e7,9e7,2e8,3e8,4e8,5e8,6e8,7e8,8e8,9e8,2e9],"labels":false,"tickSize":-7,"tickWidth":2.5,"title":null,"zindex":1}},
"y2":{"datum":2.98e9}
}},
{"data":{"values":[{"g":105},{"g":110},{"g":115},{"g":120}]},
"mark":{"type":"rule","color":"black","strokeWidth":1.2,"strokeDash":[2,3]},
"encoding":{
"x":{"field":"g","type":"quantitative","scale":{"domain":[100,125],"range":[72,539],"nice":false,"zero":false},"axis":null},
"y":{"datum":2.01e7,"type":"quantitative","scale":{"type":"log","domain":[2.01e7,2.98e9],"range":[476,146],"nice":false},"axis":{"orient":"right","offset":-193,"values":[1e8,1e9],"labels":false,"tickSize":-12,"tickWidth":2.5,"title":null,"zindex":1}},
"y2":{"datum":2.98e9}
}},
{"data":{"values":[{"g":1e8},{"g":1e9}]},
"mark":{"type":"rule","color":"black","strokeWidth":1.2,"strokeDash":[2,3]},
"encoding":{
"y":{"field":"g","type":"quantitative","scale":{"type":"log","domain":[2.01e7,2.98e9],"range":[476,146],"nice":false},"axis":{"orient":"right","offset":-193,"values":[3e7,4e7,5e7,6e7,7e7,8e7,9e7,2e8,3e8,4e8,5e8,6e8,7e8,8e8,9e8,2e9],"labels":false,"tickSize":-7,"tickWidth":2.5,"title":null,"zindex":1}},
"x":{"datum":100,"type":"quantitative","scale":{"domain":[100,125],"range":[72,539],"nice":false,"zero":false},"axis":null},
"x2":{"datum":125}
}},
{"data":{"name":"ea"},
"transform":[{"filter":"datum.T >= 100 && datum.T <= 125"}],
"mark":{"type":"point","filled":true,"stroke":"black","strokeWidth":1,"size":50,"opacity":1},
"encoding":{
"x":{"field":"T","type":"quantitative","scale":{"domain":[100,125],"range":[72,539],"nice":false,"zero":false},"axis":{"orient":"bottom","offset":-43,"values":[100,105,110,115,120],"labelExpr":"datum.value % 10 == 0 ? datum.label : ''","labelFontSize":26,"labelPadding":21,"tickSize":-12,"tickWidth":2.5,"title":null,"zindex":1}},
"y":{"field":"E","type":"quantitative","scale":{"type":"log","domain":[2.01e7,2.98e9],"range":[476,146],"nice":false},"axis":{"orient":"left","offset":-72,"values":[1e8,1e9],"labelExpr":"'10' + ['⁸','⁹'][round(log(datum.value)/LN10)-8]","labelFontSize":25,"labelPadding":19,"tickSize":-12,"tickWidth":2.5,"title":null,"zindex":1}},
"shape":{"field":"s","type":"nominal","scale":{"domain":["SC","QU","SQ2","SQ3","SQ4","SQ5"],"range":["circle","circle","triangle-up","triangle-up","diamond","diamond"]},"legend":null},
"fill":{"field":"s","type":"nominal","scale":{"domain":["SC","QU","SQ2","SQ3","SQ4","SQ5"],"range":["black","white","black","white","black","white"]},"legend":null}
}},
{"data":{"values":[{"lab":"E' / Zoom","T":118.2,"E":1.62e9}]},
"mark":{"type":"text","font":"Liberation Sans","fontWeight":"bold","fontSize":32,"align":"center","baseline":"middle","color":"black"},
"encoding":{
"x":{"field":"T","type":"quantitative","scale":{"domain":[100,125],"range":[72,539],"nice":false,"zero":false},"axis":null},
"y":{"field":"E","type":"quantitative","scale":{"type":"log","domain":[2.01e7,2.98e9],"range":[476,146],"nice":false},"axis":null},
"text":{"field":"lab"}
}}
],
"resolve":{"axis":{"x":"independent","y":"independent"}}
}
],
"resolve":{"scale":{"x":"independent","y":"independent"},"axis":{"x":"independent","y":"independent"}}
},
{
"width":732,"height":520,
"layer":[
{"data":{"name":"eb"},
"mark":{"type":"point","filled":true,"stroke":"black","strokeWidth":1.8,"size":150,"opacity":1},
"encoding":{
"x":{"field":"T","type":"quantitative","scale":{"domain":[0,140],"nice":false,"zero":false},"axis":{"orient":"bottom","values":[0,20,40,60,80,100,120,140],"grid":true,"tickSize":-17,"labelFontSize":39,"labelPadding":38,"title":"Temperature\u00a0\u00a0\u00a0\u00a0(\u00a0ᵒC\u00a0)","titleFontSize":36,"titleX":366,"titleY":104,"titleBaseline":"middle"}},
"y":{"field":"E","type":"quantitative","scale":{"type":"log","domain":[1e5,1e9],"nice":false},"axis":{"orient":"left","values":[1e5,1e6,1e7,1e8,1e9],"grid":true,"tickSize":-17,"labelExpr":"'10' + ['⁵','⁶','⁷','⁸','⁹'][round(log(datum.value)/LN10)-5]","labelFontSize":44,"labelPadding":49,"title":"E\" ( Pa )","titleFontSize":40,"titleX":-122,"titleY":260,"titleBaseline":"middle"}},
"shape":{"field":"s","type":"nominal","scale":{"domain":["SC","QU","SQ2","SQ3","SQ4","SQ5"],"range":["circle","circle","triangle-up","triangle-up","diamond","diamond"]},"legend":{"orient":"none","legendX":106,"legendY":198,"title":null,"labelExpr":"'PMMA72-' + datum.label","labelFont":"DejaVu Sans","labelFontWeight":"bold","labelFontSize":30,"labelColor":"black","labelLimit":500,"symbolSize":140,"strokeColor":"black","fillColor":"white","padding":19,"rowPadding":11,"symbolOffset":33,"labelOffset":42,"encode":{"symbols":{"update":{"stroke":{"value":"black"},"strokeWidth":{"value":1.8}}}}}},
"fill":{"field":"s","type":"nominal","scale":{"domain":["SC","QU","SQ2","SQ3","SQ4","SQ5"],"range":["black","white","black","white","black","white"]},"legend":{"orient":"none","legendX":106,"legendY":198,"title":null,"labelExpr":"'PMMA72-' + datum.label","labelFont":"DejaVu Sans","labelFontWeight":"bold","labelFontSize":30,"labelColor":"black","labelLimit":500,"symbolSize":140,"strokeColor":"black","fillColor":"white","padding":19,"rowPadding":11,"symbolOffset":33,"labelOffset":42,"encode":{"symbols":{"update":{"stroke":{"value":"black"},"strokeWidth":{"value":1.8}}}}}}
}},
{"data":{"name":"eb"},"mark":{"type":"point","opacity":0},
"encoding":{
"x":{"field":"T","type":"quantitative","scale":{"domain":[0,140],"nice":false,"zero":false},"axis":{"orient":"bottom","values":[10,30,50,70,90,110,130],"labels":false,"tickSize":-9,"title":null}},
"y":{"field":"E","type":"quantitative","scale":{"type":"log","domain":[1e5,1e9],"nice":false},"axis":{"orient":"left","values":[2e5,3e5,4e5,5e5,6e5,7e5,8e5,9e5,2e6,3e6,4e6,5e6,6e6,7e6,8e6,9e6,2e7,3e7,4e7,5e7,6e7,7e7,8e7,9e7,2e8,3e8,4e8,5e8,6e8,7e8,8e8,9e8],"labels":false,"tickSize":-9,"title":null}}
}},
{"data":{"name":"eb"},"mark":{"type":"point","opacity":0},
"encoding":{
"x":{"field":"T","type":"quantitative","scale":{"domain":[0,140],"nice":false,"zero":false},"axis":{"orient":"top","values":[10,30,50,70,90,110,130],"labels":false,"tickSize":-9,"title":null}},
"y":{"field":"E","type":"quantitative","scale":{"type":"log","domain":[1e5,1e9],"nice":false},"axis":{"orient":"right","values":[2e5,3e5,4e5,5e5,6e5,7e5,8e5,9e5,2e6,3e6,4e6,5e6,6e6,7e6,8e6,9e6,2e7,3e7,4e7,5e7,6e7,7e7,8e7,9e7,2e8,3e8,4e8,5e8,6e8,7e8,8e8,9e8],"labels":false,"tickSize":-9,"title":null}}
}},
{"data":{"values":[{"lab":"(\u00a0\u00a0b\u00a0\u00a0)","T":120.7,"E":2.84e5}]},
"mark":{"type":"text","font":"Liberation Sans","fontWeight":"bold","fontSize":34,"align":"center","baseline":"middle","color":"black"},
"encoding":{
"x":{"field":"T","type":"quantitative","scale":{"domain":[0,140],"nice":false,"zero":false},"axis":{"orient":"top","values":[20,40,60,80,100,120],"labels":false,"tickSize":-17,"title":null}},
"y":{"field":"E","type":"quantitative","scale":{"type":"log","domain":[1e5,1e9],"nice":false},"axis":{"orient":"right","values":[1e6,1e7,1e8],"labels":false,"tickSize":-17,"title":null}},
"text":{"field":"lab"}
}}
],
"resolve":{"axis":{"x":"independent","y":"independent"}}
}
],
"spacing":57,
"bounds":"flush",
"resolve":{"scale":{"shape":"independent","fill":"independent"},"legend":{"shape":"independent","fill":"independent"}},
"config":{
"view":{"stroke":"black","strokeWidth":5},
"axis":{"domain":false,"grid":false,"tickColor":"black","tickWidth":3,"labelFont":"Liberation Sans","labelFontWeight":"bold","labelColor":"black","titleFont":"Liberation Sans","titleFontWeight":"bold","titleColor":"black","labelFlush":false,"labelOverlap":false,"gridColor":"black","gridDash":[2,3],"gridWidth":1.2,"gridOpacity":1},
"legend":{"strokeWidth":2}
}
}
